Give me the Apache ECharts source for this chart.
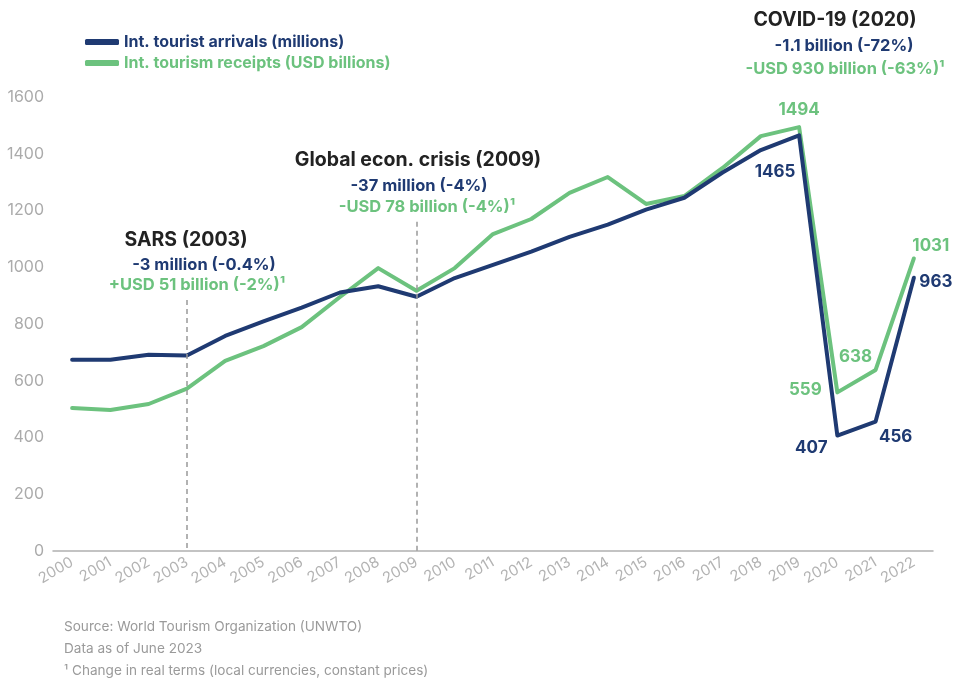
<!DOCTYPE html>
<html>
<head>
    <meta charset="utf-8" />
    <style>
        html, body { margin: 0; padding: 0; background: #fff; }
        #chart { width: 957px; height: 679px; }
    </style>
    <script src="https://cdn.jsdelivr.net/npm/echarts@6/dist/echarts.min.js"></script>
</head>
<body>
    <div id="chart"></div>
    <script type="text/javascript">
        // 数据
        var years = ['2000', '2001', '2002', '2003', '2004', '2005', '2006', '2007', '2008', '2009', '2010',
            '2011', '2012', '2013', '2014', '2015', '2016', '2017', '2018', '2019', '2020', '2021', '2022'];
        var arrivals = [674, 674, 692, 689, 758, 809, 858, 911, 933, 896, 962,
            1008, 1055, 1107, 1150, 1203, 1245, 1334, 1413, 1465, 407, 456, 963];
        var receipts = [504, 497, 518, 572, 670, 722, 789, 895, 997, 917, 997,
            1117, 1170, 1262, 1318, 1223, 1251, 1350, 1462, 1494, 559, 638, 1031];
        var yTicks = [0, 200, 400, 600, 800, 1000, 1200, 1400, 1600];
        // 事件虚线 [年份, 顶端值]
        var events = [['2003', 885], ['2009', 1160], ['2020', 1620]];

        var navy = '#1f3a72';
        var green = '#6cc27e';
        var font = 'Inter';

        // 需要数值标签的点：索引 -> 偏移
        var arrivalLabels = { 19: [-24, 37], 20: [-26, 12], 21: [20, 15], 22: [22, 4] };
        var receiptLabels = { 19: [0, -17], 20: [-32, -2], 21: [-20, -13], 22: [17, -13] };

        function buildData(values, labels, color) {
            return values.map(function (v, i) {
                if (labels[i]) {
                    return {
                        value: v,
                        label: {
                            show: true, position: 'inside', offset: labels[i],
                            color: color, fontSize: 17, fontWeight: 'bold', fontFamily: font,
                            formatter: '{c}'
                        }
                    };
                }
                return v;
            });
        }

        var markLines = events.map(function (e) {
            return [{ xAxis: e[0], yAxis: e[1] }, { xAxis: e[0], yAxis: 0 }];
        });

        // 居中文字 (x,y 为中心点)
        function txt(x, y, text, color, size, weight) {
            return {
                type: 'text', x: x, y: y,
                style: {
                    text: text, fill: color, font: weight + ' ' + size + 'px ' + font,
                    textAlign: 'center', textVerticalAlign: 'middle'
                }
            };
        }
        function foot(y, text) {
            return {
                type: 'text', x: 64, y: y,
                style: { text: text, fill: '#9a9a9a', font: '13.6px ' + font, textVerticalAlign: 'middle' }
            };
        }

        var option = {
            animation: false,
            legend: {
                orient: 'vertical', left: 80, top: 29, itemGap: 5,
                icon: 'roundRect', itemWidth: 34, itemHeight: 6,
                textStyle: { fontSize: 16, fontWeight: 'bold', fontFamily: font },
                data: [
                    { name: 'Int. tourist arrivals (millions)', textStyle: { color: navy } },
                    { name: 'Int. tourism receipts (USD billions)', textStyle: { color: green } }
                ]
            },
            grid: { left: 53, right: 24, top: 97, bottom: 128, containLabel: false },
            xAxis: {
                type: 'category', data: years, boundaryGap: true,
                axisLine: { lineStyle: { color: '#b0b0b0', width: 1.5 } },
                axisTick: { alignWithLabel: true, interval: 0, length: 5, lineStyle: { color: '#b0b0b0' } },
                axisLabel: { interval: 0, rotate: 30, color: '#b3b3b3', fontSize: 15, fontFamily: font, margin: 10 }
            },
            yAxis: {
                type: 'value', min: 0, max: 1600, interval: 200,
                splitLine: { show: false }, axisLine: { show: false }, axisTick: { show: false },
                axisLabel: {
                    color: '#ababab', fontSize: 16, fontFamily: font, margin: 9,
                    formatter: function (v) { return yTicks.indexOf(v) >= 0 ? String(v) : ''; }
                }
            },
            series: [
                {
                    name: 'Int. tourism receipts (USD billions)', type: 'line',
                    data: buildData(receipts, receiptLabels, green),
                    color: green, symbol: 'circle', symbolSize: 0.1, showAllSymbol: true,
                    lineStyle: { width: 4, color: green, cap: 'round', join: 'round' },
                    markLine: {
                        silent: true, symbol: 'none', label: { show: false },
                        lineStyle: { color: '#999', type: [5, 4], width: 1.5 },
                        data: markLines
                    }
                },
                {
                    name: 'Int. tourist arrivals (millions)', type: 'line',
                    data: buildData(arrivals, arrivalLabels, navy),
                    color: navy, symbol: 'circle', symbolSize: 0.1, showAllSymbol: true,
                    lineStyle: { width: 4, color: navy, cap: 'round', join: 'round' }
                }
            ],
            graphic: [
                txt(186, 240, 'SARS (2003)', '#222', 19.5, 'bold'),
                txt(204, 265, '-3 million (-0.4%)', navy, 16.5, 'bold'),
                txt(197, 285, '+USD 51 billion (-2%)¹', green, 16.5, 'bold'),
                txt(418, 160, 'Global econ. crisis (2009)', '#222', 19.5, 'bold'),
                txt(419, 186, '-37 million (-4%)', navy, 16.5, 'bold'),
                txt(427, 207, '-USD 78 billion (-4%)¹', green, 16.5, 'bold'),
                txt(835, 20, 'COVID-19 (2020)', '#222', 19.5, 'bold'),
                txt(844, 46, '-1.1 billion (-72%)', navy, 16.5, 'bold'),
                txt(845, 69, '-USD 930 billion (-63%)¹', green, 16.5, 'bold'),
                foot(627, 'Source: World Tourism Organization (UNWTO)'),
                foot(649, 'Data as of June 2023'),
                foot(671, '¹ Change in real terms (local currencies, constant prices)')
            ]
        };

        var myChart = echarts.init(document.getElementById('chart'));
        myChart.setOption(option);
    </script>
</body>
</html>
